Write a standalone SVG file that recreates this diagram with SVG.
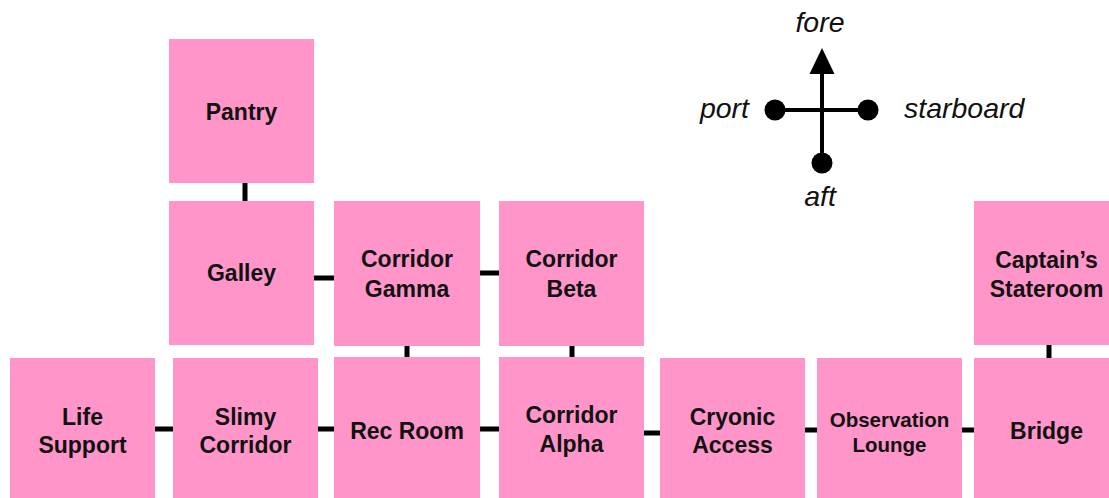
<svg xmlns="http://www.w3.org/2000/svg" width="1109" height="498" viewBox="0 0 1109 498">
<defs>
<style>
.room{fill:#ff95c9;}
.lbl{font-family:"Liberation Sans",Arial,Helvetica,sans-serif;font-weight:bold;font-size:23px;fill:#111;text-anchor:middle;}
.sm{font-size:20.5px;}
.edge{stroke:#000;stroke-width:5;fill:none;}
.dir{font-family:"Liberation Sans",Arial,Helvetica,sans-serif;font-style:italic;font-size:28.5px;fill:#111;}
.cl{stroke:#000;stroke-width:4;fill:none;}
</style>
</defs>
<rect width="1109" height="498" fill="#fff"/>
<g id="connectors">
<line class="edge" x1="245" y1="182" x2="245" y2="202"/>
<line class="edge" x1="313" y1="278" x2="335" y2="278"/>
<line class="edge" x1="479" y1="273" x2="500" y2="273"/>
<line class="edge" x1="407" y1="345" x2="407" y2="359"/>
<line class="edge" x1="572" y1="345" x2="572" y2="359"/>
<line class="edge" x1="1049" y1="344" x2="1049" y2="359"/>
<line class="edge" x1="154" y1="429" x2="174" y2="429"/>
<line class="edge" x1="317" y1="429" x2="335" y2="429"/>
<line class="edge" x1="479" y1="429" x2="500" y2="429"/>
<line class="edge" x1="643" y1="433" x2="661" y2="433"/>
<line class="edge" x1="804" y1="430" x2="818" y2="430"/>
<line class="edge" x1="961" y1="430" x2="975" y2="430"/>
</g>
<g id="pantry"><rect class="room" x="169" y="39" width="145" height="144"/><text class="lbl" x="241.5" y="120">Pantry</text></g>
<g id="galley"><rect class="room" x="169" y="201" width="145" height="144"/><text class="lbl" x="241.5" y="281">Galley</text></g>
<g id="corridor-gamma"><rect class="room" x="334" y="201" width="146" height="145"/><text class="lbl" x="407" y="267">Corridor</text><text class="lbl" x="407" y="297">Gamma</text></g>
<g id="corridor-beta"><rect class="room" x="499" y="201" width="145" height="145"/><text class="lbl" x="571.5" y="267">Corridor</text><text class="lbl" x="571.5" y="297">Beta</text></g>
<g id="captains-stateroom"><rect class="room" x="974" y="201" width="145" height="144"/><text class="lbl" x="1046.5" y="268">Captain’s</text><text class="lbl" x="1046.5" y="297">Stateroom</text></g>
<g id="life-support"><rect class="room" x="10" y="358" width="145" height="145"/><text class="lbl" x="82.5" y="425">Life</text><text class="lbl" x="82.5" y="453">Support</text></g>
<g id="slimy-corridor"><rect class="room" x="173" y="358" width="145" height="145"/><text class="lbl" x="245.5" y="425">Slimy</text><text class="lbl" x="245.5" y="453">Corridor</text></g>
<g id="rec-room"><rect class="room" x="334" y="357" width="146" height="146"/><text class="lbl" x="407" y="439">Rec Room</text></g>
<g id="corridor-alpha"><rect class="room" x="499" y="357" width="145" height="146"/><text class="lbl" x="571.5" y="423">Corridor</text><text class="lbl" x="571.5" y="452">Alpha</text></g>
<g id="cryonic-access"><rect class="room" x="660" y="358" width="145" height="145"/><text class="lbl" x="732.5" y="425">Cryonic</text><text class="lbl" x="732.5" y="453">Access</text></g>
<g id="observation-lounge"><rect class="room" x="817" y="358" width="145" height="145"/><text class="lbl sm" x="889.5" y="427">Observation</text><text class="lbl sm" x="889.5" y="452">Lounge</text></g>
<g id="bridge"><rect class="room" x="974" y="358" width="145" height="145"/><text class="lbl" x="1046.5" y="439">Bridge</text></g>
<g id="compass">
<line class="cl" x1="775" y1="110" x2="868" y2="110"/>
<line class="cl" x1="822" y1="163" x2="822" y2="74"/>
<path d="M822,48 L834.5,74 L809.5,74 Z" fill="#000"/>
<circle cx="775" cy="110" r="10.5" fill="#000"/>
<circle cx="868" cy="110" r="10.5" fill="#000"/>
<circle cx="822" cy="163" r="10.5" fill="#000"/>
<text class="dir" x="820" y="32" text-anchor="middle">fore</text>
<text class="dir" x="749" y="118" text-anchor="end">port</text>
<text class="dir" x="904" y="118">starboard</text>
<text class="dir" x="820" y="206" text-anchor="middle">aft</text>
</g>
</svg>
